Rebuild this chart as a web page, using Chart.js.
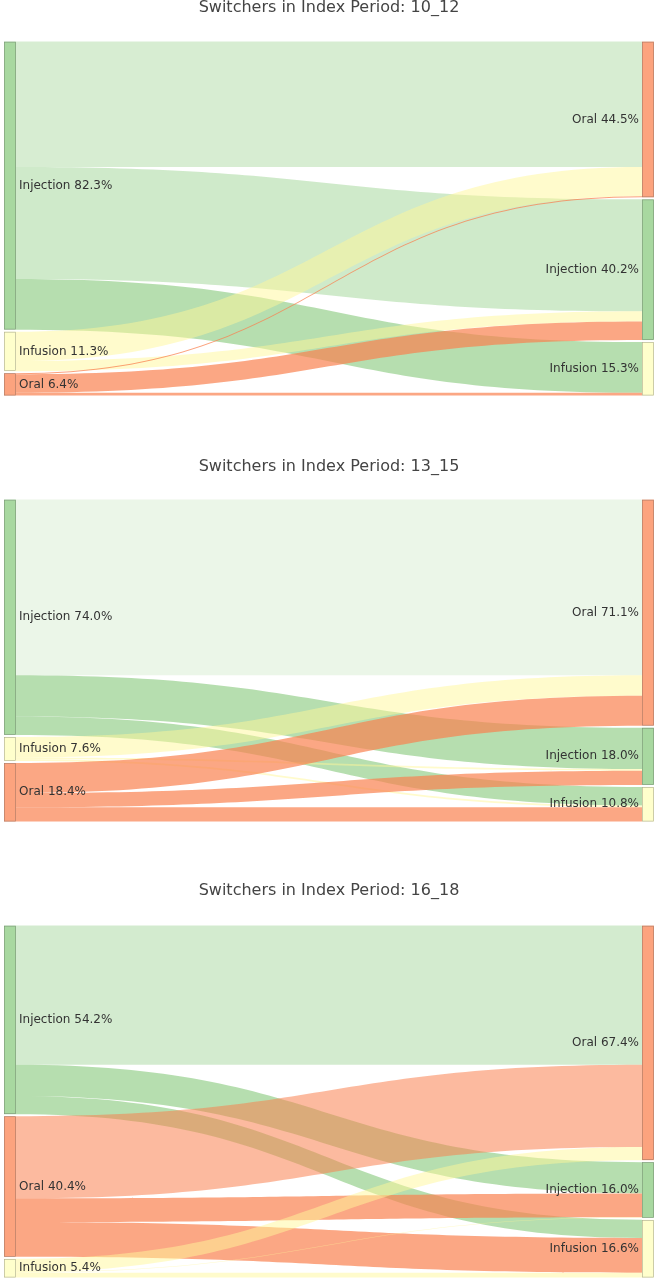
<!DOCTYPE html>
<html>
<head>
<meta charset="utf-8">
<script src="https://cdn.jsdelivr.net/npm/chart.js@4.4.1/dist/chart.umd.min.js"></script>
<style>
  html, body { margin:0; padding:0; background:#fff; width:661px; height:1280px; overflow:hidden; }
  .panel { position:absolute; left:0; width:661px; }
</style>
</head>
<body>
<div id="wrap"></div>
<script>
// ---------------- DATA ----------------
const periods = ['10_12', '13_15', '16_18'];
const targetOrder = ['Oral', 'Injection', 'Infusion'];          // right column, top to bottom

const sourceOrder_10_12 = ['Injection', 'Infusion', 'Oral'];    // left column, top to bottom
const sourceOrder_13_15 = ['Injection', 'Infusion', 'Oral'];
const sourceOrder_16_18 = ['Injection', 'Oral', 'Infusion'];

// flow share (%) : rows follow sourceOrder, columns follow targetOrder (Oral, Injection, Infusion)
const flows_10_12 = [[35.8, 32.0, 14.5], [8.4, 2.9, 0.0], [0.3, 5.3, 0.8]];
const flows_13_15 = [[55.2, 13.0, 5.8], [6.5, 0.5, 0.6], [9.4, 4.5, 4.5]];
const flows_16_18 = [[40.0, 9.0, 5.2], [23.6, 6.8, 10.0], [3.8, 0.2, 1.4]];

// printed node shares (%)
const sourcePct_10_12 = [82.3, 11.3, 6.4];
const sourcePct_13_15 = [74.0, 7.6, 18.4];
const sourcePct_16_18 = [54.2, 40.4, 5.4];
const targetPct_10_12 = [44.5, 40.2, 15.3];
const targetPct_13_15 = [71.1, 18.0, 10.8];
const targetPct_16_18 = [67.4, 16.0, 16.6];

// ---------------- STYLE ----------------
const nodeColor = { Injection: '#a8d8a0', Infusion: '#ffffcc', Oral: '#fca37e' };
const linkBase  = { Injection: [110, 190, 95], Infusion: [255, 247, 153], Oral: [250, 130, 80] };
const linkAlpha = [
  [[0.28, 0.33, 0.5], [0.5, 0.5, 0.5], [0.75, 0.7, 0.7]],
  [[0.14, 0.5, 0.5], [0.5, 0.5, 0.5], [0.7, 0.7, 0.7]],
  [[0.30, 0.5, 0.5], [0.55, 0.7, 0.7], [0.5, 0.5, 0.5]]
];
const layoutPx = [
  { top: 42,  bottom: 396,  titleY: 8 },
  { top: 500, bottom: 822,  titleY: 467 },
  { top: 926, bottom: 1278, titleY: 891 }
];
const NODE_W = 12, PAD_PX = 2, FONT = '"DejaVu Sans", Verdana, sans-serif';

const panelSources = [sourceOrder_10_12, sourceOrder_13_15, sourceOrder_16_18];
const panelFlows = [flows_10_12, flows_13_15, flows_16_18];
const panelSrcPct = [sourcePct_10_12, sourcePct_13_15, sourcePct_16_18];
const panelTgtPct = [targetPct_10_12, targetPct_13_15, targetPct_16_18];

const sankeyPlugin = {
  id: 'sankeyDraw',
  afterDatasetsDraw(chart) {
    const cfg = chart.options.plugins.sankeyDraw;
    const { sources, flows, srcPct, tgtPct, padVal, panelIdx } = cfg;
    const xs = chart.scales.x, ys = chart.scales.y, ctx = chart.ctx;
    const xL = xs.getPixelForValue(0), xR = xs.getPixelForValue(1);
    const x0 = xL + NODE_W, x1 = xR - NODE_W, xm = (x0 + x1) / 2;

    const srcTot = flows.map(r => r.reduce((a, b) => a + b, 0));
    const tgtTot = targetOrder.map((t, j) => flows.reduce((a, r) => a + r[j], 0));
    const srcStart = [], tgtStart = [];
    let acc = 0;
    srcTot.forEach((v, i) => { srcStart.push(acc); acc += v + padVal; });
    acc = 0;
    tgtTot.forEach((v, j) => { tgtStart.push(acc); acc += v + padVal; });

    const tgtOff = targetOrder.map(() => 0);
    const links = [];
    sources.forEach((s, i) => {
      let sOff = 0;
      targetOrder.forEach((t, j) => {
        const v = flows[i][j];
        links.push({ i, j, s, a0: srcStart[i] + sOff, a1: srcStart[i] + sOff + v,
                     b0: tgtStart[j] + tgtOff[j], b1: tgtStart[j] + tgtOff[j] + v, v });
        sOff += v; tgtOff[j] += v;
      });
    });

    ctx.save();
    links.forEach(l => {
      if (l.v <= 0) return;
      const ya0 = ys.getPixelForValue(l.a0), ya1 = ys.getPixelForValue(l.a1);
      const yb0 = ys.getPixelForValue(l.b0), yb1 = ys.getPixelForValue(l.b1);
      const c = linkBase[l.s], al = linkAlpha[panelIdx][l.i][l.j];
      ctx.fillStyle = `rgba(${c[0]},${c[1]},${c[2]},${al})`;
      ctx.beginPath();
      ctx.moveTo(x0, ya0);
      ctx.bezierCurveTo(xm, ya0, xm, yb0, x1, yb0);
      ctx.lineTo(x1, yb1);
      ctx.bezierCurveTo(xm, yb1, xm, ya1, x0, ya1);
      ctx.closePath();
      ctx.fill();
    });

    ctx.lineWidth = 0.6;
    ctx.strokeStyle = 'rgba(68,68,68,0.45)';
    const drawNode = (x, v0, v1, name) => {
      const y0 = ys.getPixelForValue(v0), y1 = ys.getPixelForValue(v1);
      ctx.fillStyle = nodeColor[name];
      ctx.fillRect(x, y0, NODE_W, y1 - y0);
      ctx.strokeRect(x + 0.5, y0 + 0.5, NODE_W - 1, y1 - y0 - 1);
      return (y0 + y1) / 2;
    };
    ctx.font = '12px ' + FONT;
    ctx.textBaseline = 'middle';
    sources.forEach((s, i) => {
      const yc = drawNode(xL, srcStart[i], srcStart[i] + srcTot[i], s);
      ctx.fillStyle = '#333'; ctx.textAlign = 'left';
      ctx.fillText(s + ' ' + srcPct[i].toFixed(1) + '%', xL + NODE_W + 3, yc);
    });
    targetOrder.forEach((t, j) => {
      const yc = drawNode(xR - NODE_W, tgtStart[j], tgtStart[j] + tgtTot[j], t);
      ctx.fillStyle = '#333'; ctx.textAlign = 'right';
      ctx.fillText(t + ' ' + tgtPct[j].toFixed(1) + '%', xR - NODE_W - 3, yc);
    });
    ctx.restore();
  }
};

const wrap = document.getElementById('wrap');
periods.forEach((p, k) => {
  const L = layoutPx[k];
  const titleSize = 16, titleH = titleSize * 1.2;
  const canvasTop = L.titleY - titleH / 2;
  const areaTop = L.top - canvasTop;
  const height = Math.ceil(L.bottom - canvasTop) + 1;
  const div = document.createElement('div');
  div.className = 'panel';
  div.style.top = canvasTop + 'px';
  div.style.height = height + 'px';
  const cv = document.createElement('canvas');
  cv.width = 661; cv.height = height;
  cv.style.width = '661px'; cv.style.height = height + 'px';
  div.appendChild(cv);
  wrap.appendChild(div);

  const flows = panelFlows[k];
  const total = Math.max(
    flows.reduce((a, r) => a + r.reduce((x, y) => x + y, 0), 0), 100);
  const Hpx = L.bottom - L.top;
  const padVal = PAD_PX * total / (Hpx - 2 * PAD_PX);
  const yMax = total + 2 * padVal;
  const areaBottomGap = height - (L.bottom - canvasTop);

  new Chart(cv, {
    type: 'scatter',
    data: { datasets: [{ data: [] }] },
    options: {
      responsive: false, animation: false, devicePixelRatio: 1,
      layout: { padding: { left: 4, right: 7, top: 0, bottom: areaBottomGap } },
      scales: {
        x: { type: 'linear', min: 0, max: 1, display: false },
        y: { type: 'linear', min: 0, max: yMax, reverse: true, display: false }
      },
      plugins: {
        legend: { display: false },
        tooltip: { enabled: false },
        title: {
          display: true, text: 'Switchers in Index Period: ' + p,
          color: '#444', font: { family: FONT, size: titleSize, weight: 'normal', lineHeight: 1.2 },
          padding: { top: 0, bottom: areaTop - titleH }
        },
        sankeyDraw: {
          sources: panelSources[k], flows, srcPct: panelSrcPct[k], tgtPct: panelTgtPct[k],
          padVal, panelIdx: k
        }
      }
    },
    plugins: [sankeyPlugin]
  });
});
</script>
</body>
</html>
